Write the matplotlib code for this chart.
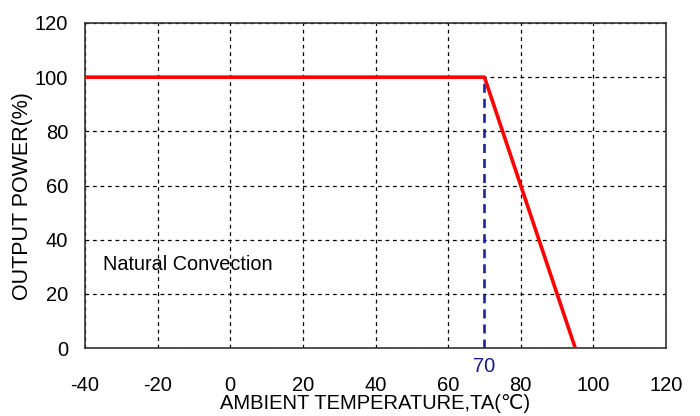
import matplotlib
matplotlib.use("Agg")
import matplotlib.pyplot as plt

plt.rcParams['font.family'] = ['Liberation Sans', 'DejaVu Sans']

temps = [-40, 70, 95]
power = [100, 100, 0]
knee_temp = 70
knee_power = 100
x_ticks = [-40, -20, 0, 20, 40, 60, 80, 100, 120]
y_ticks = [0, 20, 40, 60, 80, 100, 120]

W, H = 700, 416
fig = plt.figure(figsize=(W/100, H/100), dpi=100)
L, R, T, B = 85, 666, 23, 348
ax = fig.add_axes([L/W, 1 - B/H, (R-L)/W, (B-T)/H])

ax.set_xlim(-40, 120)
ax.set_ylim(0, 120)
ax.set_xticks(x_ticks)
ax.set_yticks(y_ticks)
ax.set_xticklabels([str(v) for v in x_ticks])
ax.set_yticklabels([str(v) for v in y_ticks])
ax.tick_params(length=0, labelsize=14.5)
ax.tick_params(axis='y', pad=12)
ax.tick_params(axis='x', pad=20.5)
ax.grid(True, color='black', linestyle=(0, (3, 3)), linewidth=0.9)
for s in ax.spines.values():
    s.set_color('#333333')
    s.set_linewidth(1.2)

ax.plot([knee_temp, knee_temp], [0, knee_power], color='#22229a', linewidth=1.9,
        linestyle=(0, (3.4, 2.3)), zorder=3)
ax.plot(temps, power, color='#ff0000', linewidth=2.6, zorder=4, solid_capstyle='butt')

ax.text(knee_temp, -3.2, str(knee_temp), color='#1a1a8c', fontsize=14.5,
        ha='center', va='top', clip_on=False)
ax.text(-35, 31, 'Natural Convection', fontsize=14.3, ha='left', va='center')

ax.set_xlabel('AMBIENT TEMPERATURE,TA(℃)', fontsize=14.5)
ax.xaxis.label.set_va('center')
ax.xaxis.set_label_coords(0.5, (B - 403.5) / (B - T))
ax.set_ylabel('OUTPUT POWER(%)', fontsize=15.5)
ax.yaxis.label.set_va('center')
ax.yaxis.set_label_coords((23 - L) / (R - L), (B - 196) / (B - T))

fig.savefig('out.png', dpi=100)
